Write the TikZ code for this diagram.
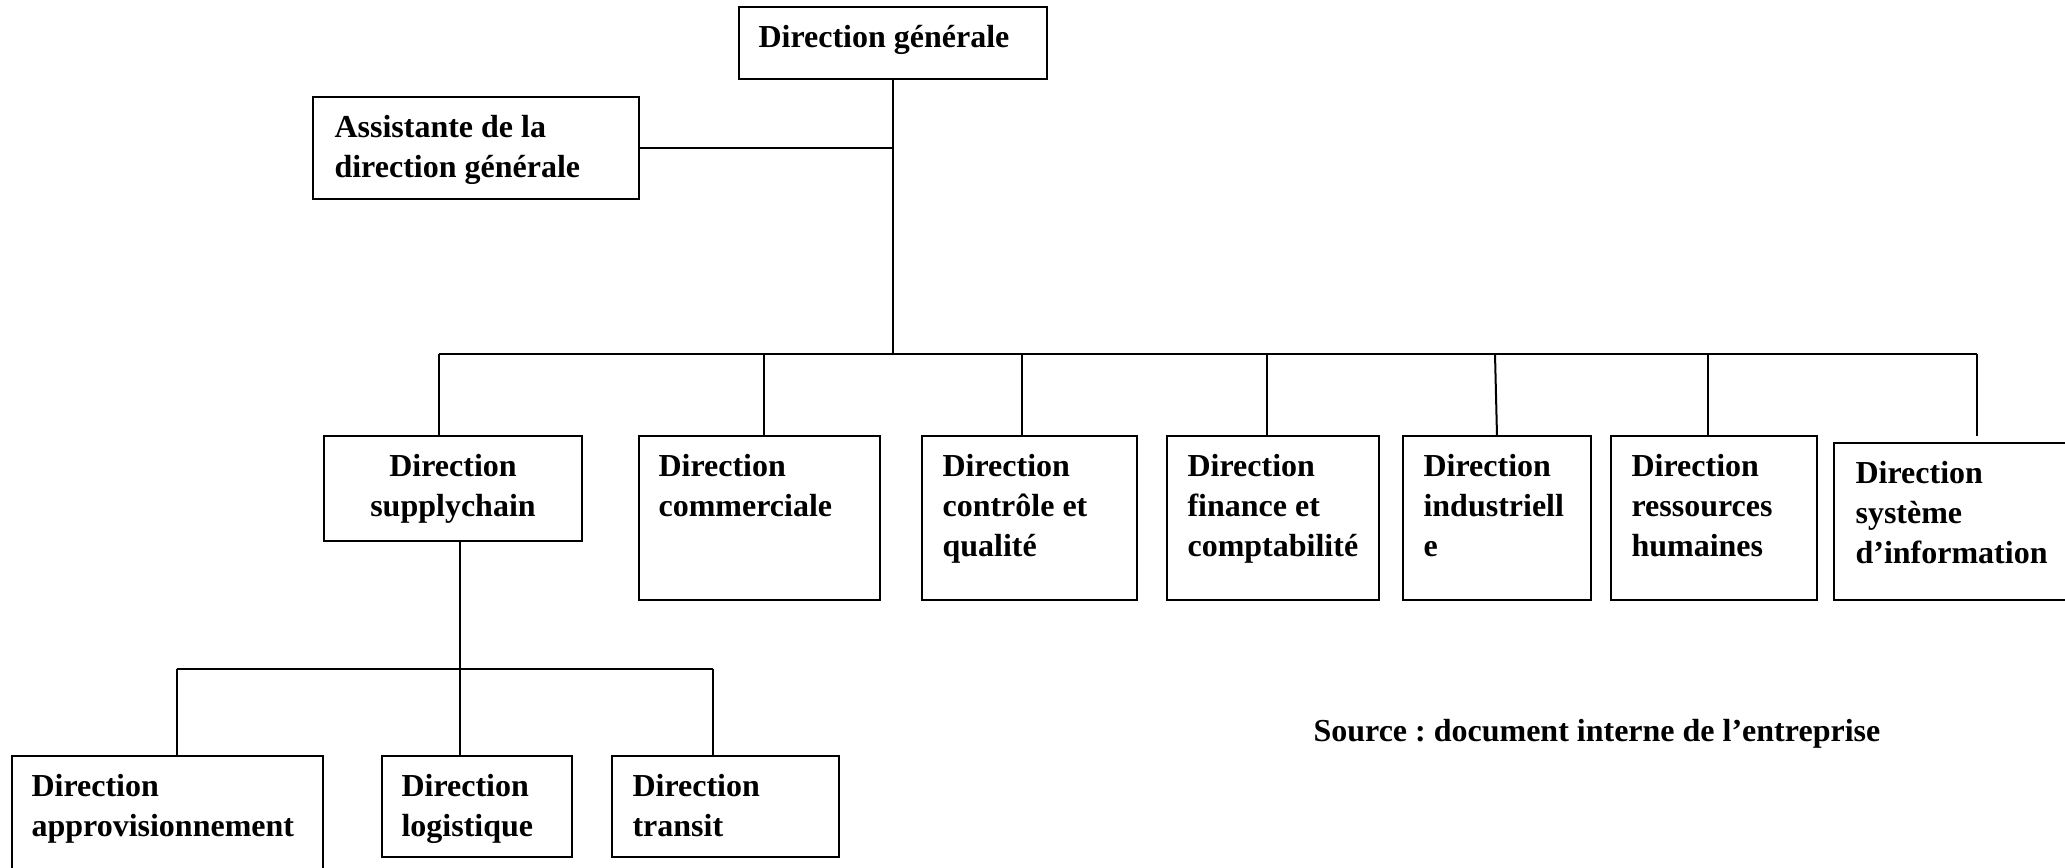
\documentclass[tikz,border=0pt]{standalone}
\usepackage{fontspec}
\setmainfont{Liberation Serif}
\usetikzlibrary{calc,fit}
\frenchspacing
\begin{document}
\begin{tikzpicture}[x=0.375pt,y=-0.375pt,
  box/.style={draw,line width=0.75pt,inner sep=0pt,rectangle},
  lbl/.style={inner sep=0pt,anchor=north west,align=left,
    font=\fontsize{12pt}{15pt}\selectfont\bfseries},
  link/.style={line width=0.75pt}]
\useasboundingbox (0,0) rectangle (2065,868);

% top level
\node[box,fit={(739,7) (1047,79)}] (dg) {};
\node[lbl] (dgt) at ($(dg.north west)+(20,19)$) {Direction générale};
\node[box,fit={(313,97) (639,199)}] (as) {};
\node[lbl] (ast) at ($(as.north west)+(22,19)$) {Assistante de la\\direction générale};

% second level
\node[box,fit={(324,436) (582,541)}] (sc) {};
\node[lbl,anchor=north,align=center] (sct) at ($(sc.north)+(0,19)$) {Direction\\supplychain};
\node[box,fit={(639,436) (880,600)}] (cm) {};
\node[lbl] (cmt) at ($(cm.north west)+(20,19)$) {Direction\\commerciale};
\node[box,fit={(922,436) (1137,600)}] (cq) {};
\node[lbl] (cqt) at ($(cq.north west)+(21,19)$) {Direction\\contrôle et\\qualité};
\node[box,fit={(1167,436) (1379,600)}] (fc) {};
\node[lbl] (fct) at ($(fc.north west)+(21,19)$) {Direction\\finance et\\comptabilité};
\node[box,fit={(1403,436) (1591,600)}] (in) {};
\node[lbl] (int) at ($(in.north west)+(21,19)$) {Direction\\industriell\\e};
\node[box,fit={(1611,436) (1817,600)}] (rh) {};
\node[lbl] (rht) at ($(rh.north west)+(21,19)$) {Direction\\ressources\\humaines};
\node[box,fit={(1834,443) (2080,600)}] (si) {};
\node[lbl] (sit) at ($(si.north west)+(22,19)$) {Direction\\système\\d’information};

% third level
\node[box,fit={(12,756) (323,890)}] (ap) {};
\node[lbl] (apt) at ($(ap.north west)+(20,19)$) {Direction\\approvisionnement};
\node[box,fit={(382,756) (572,857)}] (lg) {};
\node[lbl] (lgt) at ($(lg.north west)+(20,19)$) {Direction\\logistique};
\node[box,fit={(612,756) (839,857)}] (tr) {};
\node[lbl] (trt) at ($(tr.north west)+(21,19)$) {Direction\\transit};

% source note
\node[lbl,anchor=base west] (src) at (1313,741.5) {Source : document interne de l’entreprise};

% connectors, top level
\coordinate (busL) at (439,354);
\coordinate (busR) at (1977,354);
\coordinate (t2) at (764,354);
\coordinate (t3) at (1022,354);
\coordinate (t4) at (1267,354);
\coordinate (t5) at (1495,354);
\coordinate (t5b) at (1497,436);
\coordinate (t6) at (1708,354);
\coordinate (t7e) at (1977,436);
\draw[link] (dg.south) -- (dg.south |- busL);
\draw[link] (as.east) -- (as.east -| dg.south);
\draw[link] (busL) -- (busR);
\draw[link] (busL) -- (busL |- sc.north);
\draw[link] (t2) -- (t2 |- cm.north);
\draw[link] (t3) -- (t3 |- cq.north);
\draw[link] (t4) -- (t4 |- fc.north);
\draw[link] (t5) -- (t5b);
\draw[link] (t6) -- (t6 |- rh.north);
\draw[link] (busR) -- (t7e);

% connectors, supply chain branch
\coordinate (sv) at (460,541);
\coordinate (subL) at (176.5,669);
\coordinate (subR) at (712.5,669);
\draw[link] (sv) -- (sv |- lg.north);
\draw[link] (subL) -- (subR);
\draw[link] (subL) -- (subL |- ap.north);
\draw[link] (subR) -- (subR |- tr.north);
\end{tikzpicture}
\end{document}
